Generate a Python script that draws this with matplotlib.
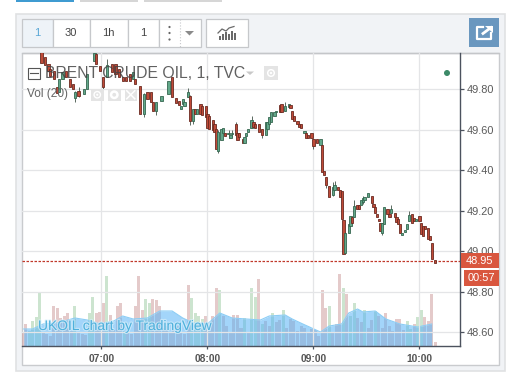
import matplotlib
matplotlib.use("Agg")
import matplotlib.pyplot as plt
import matplotlib.patheffects as pe
from matplotlib.patches import Rectangle, Circle, Polygon

plt.rcParams['font.family'] = ['Liberation Sans', 'DejaVu Sans']

# ---------- data: minutes after 07:00 ----------
candle_minutes = [-42,-40,-38,-36,-34,-32,-30,-29,-27,-25,-24,-22,-20,-18,-16,-15,-13,-10,-8,-4,-3,-1,
    1,3,6,8,10,12,14,16,18,19,22,24,26,28,29,31,34,38,40,42,44,45,46,47,49,50,52,53,54,56,57,59,
    60,61,63,64,65,66,68,69,70,72,73,74,76,77,78,80,81,82,83,85,86,87,89,91,93,94,95,96,98,99,
    101,102,104,106,107,108,109,111,112,113,115,116,117,119,120,122,124,125,126,127,129,131,132,134,135,136,137,138,
    140,141,142,143,145,146,147,148,149,151,153,154,155,156,157,158,159,160,162,163,164,166,167,168,169,170,
    172,173,174,176,177,178,180,181,182,183,185,186,187,189]
opens = [50.10,50.08,50.06,50.04,50.00,49.96,49.925,49.90,49.89,49.81,49.785,49.85,49.89,49.85,49.825,49.755,49.79,49.775,49.80,49.94,49.975,49.915,
    49.86,49.86,49.925,49.925,49.90,49.86,49.86,49.875,49.85,49.85,49.815,49.675,49.785,49.785,49.735,49.69,49.74,49.775,49.86,49.755,49.74,49.70,49.725,49.715,49.76,49.765,49.64,49.70,49.675,49.725,49.715,49.715,
    49.675,49.665,49.645,49.625,49.605,49.495,49.55,49.585,49.585,49.58,49.56,49.58,49.625,49.585,49.585,49.555,49.535,49.57,49.59,49.61,49.635,49.625,49.625,49.605,49.575,49.605,49.625,49.635,49.665,49.685,
    49.72,49.725,49.69,49.71,49.72,49.69,49.665,49.64,49.625,49.625,49.585,49.585,49.575,49.585,49.555,49.555,49.525,49.525,49.395,49.365,49.32,49.275,49.30,49.315,49.30,49.295,49.155,48.99,
    49.09,49.125,49.17,49.17,49.225,49.225,49.225,49.24,49.25,49.265,49.27,49.23,49.215,49.185,49.16,49.14,49.09,49.135,49.21,49.185,49.19,49.19,49.17,49.16,49.135,49.08,
    49.095,49.11,49.15,49.185,49.165,49.15,49.175,49.14,49.125,49.125,49.115,49.075,49.04,48.955]
closes = [50.07,50.06,50.04,50.02,49.93,49.92,49.89,49.865,49.85,49.78,49.85,49.885,49.86,49.81,49.80,49.785,49.765,49.80,49.875,49.98,49.925,49.89,
    49.81,49.92,49.885,49.875,49.86,49.84,49.84,49.84,49.885,49.825,49.675,49.775,49.75,49.735,49.69,49.735,49.765,49.84,49.76,49.73,49.72,49.715,49.75,49.735,49.785,49.64,49.70,49.675,49.70,49.675,49.67,49.66,
    49.61,49.605,49.60,49.59,49.505,49.59,49.605,49.61,49.57,49.585,49.575,49.585,49.575,49.55,49.565,49.535,49.565,49.585,49.605,49.645,49.615,49.61,49.59,49.575,49.635,49.635,49.66,49.685,49.685,49.69,
    49.685,49.685,49.715,49.725,49.705,49.65,49.64,49.625,49.615,49.61,49.595,49.56,49.56,49.56,49.52,49.535,49.555,49.39,49.375,49.325,49.265,49.315,49.325,49.30,49.265,49.16,48.985,49.09,
    49.135,49.175,49.14,49.22,49.21,49.21,49.25,49.26,49.265,49.285,49.235,49.215,49.19,49.17,49.15,49.10,49.14,49.215,49.185,49.17,49.21,49.17,49.145,49.135,49.09,49.09,
    49.105,49.135,49.18,49.14,49.15,49.16,49.15,49.085,49.075,49.11,49.06,49.055,48.96,48.94]
wick_minutes = [-15,-13,1,3,24,31,49,50,52,66,72,74,76,85,91,104,120,127,131,132,143,148,159,164,174]
wick_highs = [49.79,49.81,49.86,49.95,49.78,49.735,49.805,49.77,49.70,49.60,49.60,49.60,49.635,49.665,49.605,49.735,49.555,49.365,49.34,49.345,49.25,49.27,49.14,49.225,49.20]
wick_lows = [49.735,49.76,49.78,49.86,49.66,49.67,49.76,49.62,49.625,49.485,49.56,49.565,49.57,49.61,49.56,49.69,49.505,49.31,49.27,49.30,49.17,49.23,49.08,49.19,49.15]

volume_minutes = [-45 + 2*i for i in range(118)]
volumes = [13,22,15,25,29,54,13,12,10,40,38,28,30,33,15,40,14,12,11,33,49,33,34,43,70,31,16,40,43,15,
    13,12,40,70,36,47,43,47,46,40,18,20,14,16,20,14,12,61,48,33,30,27,30,15,30,58,56,30,20,14,
    31,31,18,28,14,58,49,67,22,25,20,33,24,26,36,18,27,25,15,20,18,14,17,16,10,56,38,40,14,22,
    72,58,52,30,43,28,24,36,18,26,35,30,18,33,20,15,27,27,16,25,17,22,29,36,29,25,52,4]
volume_up = [2,3,4,5,15,19,20,24,29,35,36,48,49,50,51,56,63,65,66,68,71,74,87,91,93,94,97,100,109,110,112,113]
ma_minutes = [-44,-39,-33,-25,-21,-15,-8,-1,7,12,18,26,33,40,46,52,60,67,74,90,95,104,108,114,124,129,136,140,145,148,155,161,169,179,187]
ma_values = [17,17,22,23,25,28,26,22,25,30,27,28,35,35,28,23,22,33,28,26,30,31,27,22,14,20,22,33,37,34,35,27,22,19,22]

price_ticks = [48.6,48.8,49.0,49.2,49.4,49.6,49.8]
time_ticks = [0,60,120,180]
time_labels = ['07:00','08:00','09:00','10:00']
last_price = 48.95
countdown = '00:57'

W, H = 516, 386
fig = plt.figure(figsize=(W/100, H/100), dpi=100, facecolor='white')

def pixel_axes(z):
    a = fig.add_axes([0,0,1,1], zorder=z)
    a.set_xlim(0,W); a.set_ylim(H,0); a.axis('off'); a.patch.set_visible(False)
    return a

# ---------- chrome behind ----------
bg = pixel_axes(0)
PANEL = '#f1f3f6'
for x0,x1,c in [(16,74,'#3f9bd1'),(80,138,'#d6d6d6'),(144,222,'#d6d6d6')]:
    bg.add_patch(Rectangle((x0,0),x1-x0,1.6,fc=c,ec='none'))
bg.add_patch(Rectangle((15.5,13.5),489,357,fc=PANEL,ec='#e0e1e3',lw=1.2))
bg.add_patch(Rectangle((21.5,53),477,312,fc='white',ec='#c9cbce',lw=1))
bg.plot([21.5,498.5],[53,53],color='#c4c6c9',lw=1)
def button(x0,x1,fc='white'):
    bg.add_patch(Rectangle((x0,18.5),x1-x0,28.5,fc=fc,ec='#c6c8cb',lw=0.9))
button(21.5,52.5,'#eef3f8'); button(52.5,89.5); button(89.5,127.5); button(127.5,158.5); button(158.5,200.5); button(205.5,247.5)
bg.plot([179.5,179.5],[19,47],color='#c6c8cb',lw=0.8,ls=':')
for x,s,c in [(37,'1','#5aa7d6'),(71,'30','#444444'),(108.5,'1h','#444444'),(143,'1','#444444')]:
    bg.text(x,33,s,ha='center',va='center',fontsize=8,color=c)
for y in (27,33,39.5):
    bg.add_patch(Circle((169.5,y),1.1,fc='#666666',ec='none'))
bg.add_patch(Polygon([[185,31],[194,31],[189.5,35.5]],fc='#8a8a8a',ec='none'))
for x,h in zip([219,222,225,228,231,234],[4,6,8,6,9,7]):
    bg.add_patch(Rectangle((x,40-h),1.8,h,fc='#6a6a6a',ec='none'))
bg.plot([218,222,226,229,234],[33,29,31,28,26.5],color='#6a6a6a',lw=0.9)
bg.add_patch(Rectangle((469,18),30,29,fc='#6a97bf',ec='none'))
bg.plot([483,477,477,491,491],[27,27,38.5,38.5,33],color='white',lw=1.6)
bg.plot([483,491],[33.5,27.5],color='white',lw=2)
bg.add_patch(Polygon([[485,26],[492.5,26],[492.5,33]],fc='white',ec='none'))

# ---------- volume ----------
pos = [22/W, (H-346)/H, 438/W, 293/H]
ax = fig.add_axes(pos, zorder=2)
vol_ax = ax.twinx()
vol_ax.set_zorder(1); ax.patch.set_visible(False); vol_ax.patch.set_visible(False)
vol_ax.set_ylim(0,293); vol_ax.axis('off')
vol_colors = ['#a3cfa8' if i in volume_up else '#cfa0a0' for i in range(len(volumes))]
vol_ax.bar(volume_minutes, volumes, width=1.7, color=vol_colors, alpha=0.55, linewidth=0, zorder=1)
vol_ax.fill_between(ma_minutes, 0, ma_values, color='#58b4f6', alpha=0.55, linewidth=0, zorder=2)
vol_ax.plot(ma_minutes, ma_values, color='#8ccdf5', lw=0.8, zorder=3)

# ---------- price ----------
ax.set_xlim(-45,203)
ax.set_ylim(48.531,49.978)
ax.set_yticks(price_ticks); ax.set_yticklabels([f'{v:.2f}' for v in price_ticks])
ax.set_xticks(time_ticks); ax.set_xticklabels(time_labels, fontweight='bold')
ax.yaxis.tick_right()
ax.grid(True, color='#e4e5e7', lw=0.9, zorder=0); ax.set_axisbelow(True)
ax.tick_params(axis='y', length=3, width=0.9, color='#4c525e', labelcolor='#5a5a5a', labelsize=7.9, pad=2)
ax.tick_params(axis='x', length=2, width=0.9, color='#4c525e', labelcolor='#555555', labelsize=7.4, pad=4)
for s in ('top','left'):
    ax.spines[s].set_visible(False)
for s in ('right','bottom'):
    ax.spines[s].set_color('#4c525e'); ax.spines[s].set_linewidth(1)

ax.axhline(last_price, color='#c0392b', lw=0.9, ls=(0,(2,1.2)), zorder=2)
ax.vlines(wick_minutes, wick_lows, wick_highs, color='#5a6a60', lw=0.7, zorder=3)
up = [c >= o for o, c in zip(opens, closes)]
body_bottom = [min(o, c) for o, c in zip(opens, closes)]
body_height = [max(abs(c - o), 0.004) for o, c in zip(opens, closes)]
ax.bar(candle_minutes, body_height, bottom=body_bottom, width=1.3,
       color=['#62a88a' if u else '#bf4a38' for u in up],
       edgecolor=['#35664f' if u else '#6a2a20' for u in up], linewidth=0.6, zorder=4)

# ---------- overlay ----------
ov = pixel_axes(3)
ov.text(45,73,'BRENT CRUDE OIL, 1, TVC',fontsize=11.35,color='#444444',alpha=0.85,va='center',ha='left')
ov.add_patch(Rectangle((27.5,67.5),12,11,fc='none',ec='#555555',lw=0.8))
ov.plot([29.5,37.5],[73,73],color='#555555',lw=0.8)
ov.add_patch(Polygon([[246,71.5],[254,71.5],[250,75]],fc='#c8c8c8',ec='none'))
def icon_box(x,y,s):
    ov.add_patch(Rectangle((x,y),s,s,fc='#e4e4e4',ec='none'))
    return x+s/2, y+s/2
cx,cy = icon_box(264,66,14)
ov.add_patch(Circle((cx,cy),3.3,fc='none',ec='white',lw=1.1)); ov.add_patch(Circle((cx,cy),1.2,fc='white',ec='none'))
ov.text(27,94,'Vol (20)',fontsize=8.6,color='#666666',va='center',ha='left')
cx,cy = icon_box(91,88.5,12.5)
ov.add_patch(Circle((cx,cy),3.2,fc='none',ec='white',lw=1)); ov.add_patch(Circle((cx,cy),1.1,fc='white',ec='none'))
cx,cy = icon_box(108,88.5,12.5)
ov.add_patch(Circle((cx,cy),3.2,fc='none',ec='white',lw=1.8))
cx,cy = icon_box(124.5,88.5,12.5)
ov.plot([cx-4,cx+4],[cy-4,cy+4],color='white',lw=1.1); ov.plot([cx-4,cx+4],[cy+4,cy-4],color='white',lw=1.1)
ov.add_patch(Circle((447,73),3,fc='#3c8a68',ec='none'))
ov.text(38,326,'UKOIL chart by TradingView',fontsize=9.95,color='#4fb0dc',va='center',ha='left',
        path_effects=[pe.withStroke(linewidth=1.6, foreground='#d8f0fb', alpha=0.7)])
ov.add_patch(Rectangle((461,253),37.5,15,fc='#d9573f',ec='none'))
ov.text(479.5,260.5,f'{last_price:.2f}',fontsize=7.9,color='white',ha='center',va='center')
ov.add_patch(Rectangle((464,270),34.5,16,fc='#d9573f',ec='none'))
ov.text(481,278,countdown,fontsize=7.9,color='white',ha='center',va='center')

fig.savefig('out.png', dpi=100, facecolor='white')
